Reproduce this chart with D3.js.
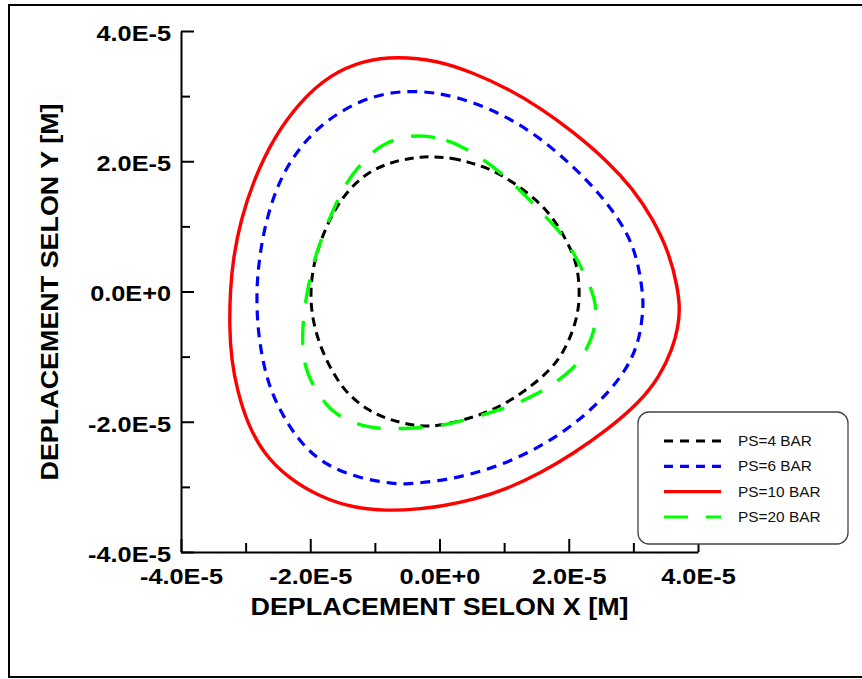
<!DOCTYPE html>
<html>
<head>
<meta charset="utf-8">
<script src="https://cdn.jsdelivr.net/npm/d3@7"></script>
<style>
  html, body { margin: 0; padding: 0; background: #fff; }
  svg { display: block; font-family: "Liberation Sans", Arial, sans-serif; }
</style>
</head>
<body>
<svg id="chart" width="862" height="679"></svg>
<script>
// ---- Data (units of 1e-5 m) ----
const seriesNames = ["PS=4 BAR", "PS=6 BAR", "PS=10 BAR", "PS=20 BAR"];

const ps4 = [
  [-0.10, 2.07], [0.21, 2.05], [0.43, 1.99], [0.78, 1.89], [1.14, 1.68], [1.51, 1.40],
  [1.76, 1.13], [1.97, 0.78], [2.13, 0.43], [2.17, 0.02], [2.15, -0.29], [2.07, -0.60],
  [1.91, -0.95], [1.71, -1.21], [1.40, -1.47], [1.05, -1.71], [0.67, -1.88], [0.32, -1.99],
  [0.01, -2.05], [-0.10, -2.07], [-0.41, -2.06], [-0.81, -1.96], [-1.12, -1.82], [-1.43, -1.57],
  [-1.64, -1.27], [-1.84, -0.87], [-1.97, -0.42], [-2.00, -0.03], [-1.96, 0.37], [-1.84, 0.79],
  [-1.64, 1.24], [-1.38, 1.60], [-1.07, 1.86], [-0.65, 2.02], [-0.25, 2.07]
];

const ps6 = [
  [-0.44, 3.08], [0.01, 3.05], [0.52, 2.91], [1.05, 2.68], [1.56, 2.36], [2.07, 1.92],
  [2.48, 1.50], [2.79, 1.09], [2.99, 0.72], [3.10, 0.30], [3.15, -0.09], [3.15, -0.29],
  [3.10, -0.71], [2.95, -1.10], [2.68, -1.48], [2.33, -1.83], [1.97, -2.12], [1.56, -2.38],
  [1.05, -2.63], [0.52, -2.80], [0.01, -2.91], [-0.53, -2.96], [-0.72, -2.95], [-1.23, -2.87],
  [-1.69, -2.70], [-2.05, -2.44], [-2.36, -2.03], [-2.62, -1.52], [-2.75, -1.01], [-2.82, -0.49],
  [-2.83, 0.02], [-2.80, 0.40], [-2.73, 0.89], [-2.57, 1.47], [-2.36, 1.93], [-2.05, 2.35],
  [-1.69, 2.67], [-1.23, 2.93], [-0.81, 3.05]
];

const ps10 = [
  [-0.65, 3.61], [-0.04, 3.55], [0.52, 3.36], [1.05, 3.12], [1.56, 2.82], [2.07, 2.45],
  [2.59, 2.01], [2.99, 1.58], [3.30, 1.12], [3.56, 0.58], [3.69, 0.04], [3.72, -0.29],
  [3.69, -0.55], [3.61, -0.87], [3.41, -1.30], [3.10, -1.70], [2.59, -2.13], [2.07, -2.49],
  [1.56, -2.79], [1.05, -3.03], [0.52, -3.20], [0.01, -3.30], [-0.30, -3.34], [-0.81, -3.37],
  [-1.34, -3.32], [-1.84, -3.16], [-2.35, -2.86], [-2.73, -2.48], [-2.97, -2.03], [-3.13, -1.52],
  [-3.22, -1.04], [-3.25, -0.58], [-3.24, 0.02], [-3.19, 0.52], [-3.08, 1.08], [-2.88, 1.70],
  [-2.57, 2.36], [-2.15, 2.93], [-1.69, 3.33], [-1.18, 3.55]
];

const ps20 = [
  [-0.25, 2.40], [0.12, 2.33], [0.40, 2.20], [0.67, 2.03], [0.94, 1.83], [1.20, 1.60],
  [1.43, 1.37], [1.66, 1.13], [1.90, 0.88], [2.07, 0.60], [2.22, 0.32], [2.36, 0.02],
  [2.44, -0.29], [2.39, -0.64], [2.25, -0.95], [2.05, -1.21], [1.76, -1.42], [1.48, -1.59],
  [1.20, -1.72], [0.89, -1.83], [0.52, -1.94], [0.21, -2.02], [0.01, -2.06], [-0.42, -2.10],
  [-0.76, -2.11], [-1.10, -2.09], [-1.43, -1.98], [-1.69, -1.82], [-1.89, -1.56], [-2.05, -1.26],
  [-2.12, -0.94], [-2.12, -0.60], [-2.09, -0.25], [-2.03, 0.08], [-1.95, 0.45], [-1.80, 0.89],
  [-1.61, 1.33], [-1.46, 1.64], [-1.27, 1.90], [-1.03, 2.15], [-0.87, 2.26], [-0.56, 2.38]
];

const majorTicks = [-4, -2, 0, 2, 4];
const minorTicks = [-3, -1, 1, 3];
const tickLabels = ["-4.0E-5", "-2.0E-5", "0.0E+0", "2.0E-5", "4.0E-5"];
const yTickLabels = ["-4.0E-5", "-2.0E-5", "0.0E+0", "2.0E-5", "4.0E-5"];
const xTitle = "DEPLACEMENT SELON X [M]";
const yTitle = "DEPLACEMENT SELON Y [M]";

// ---- Layout ----
const svg = d3.select("#chart");
const x = d3.scaleLinear().domain([-4, 4]).range([181, 698]);
const y = d3.scaleLinear().domain([-4, 4]).range([552, 31]);

// outer frame
svg.append("rect").attr("x", 9).attr("y", 5).attr("width", 880).attr("height", 672)
  .attr("fill", "none").attr("stroke", "#000").attr("stroke-width", 2);

const styles = [
  { data: ps4, color: "#000000", dash: "9,6", width: 3 },
  { data: ps6, color: "#0000ff", dash: "10,7", width: 3.2 },
  { data: ps10, color: "#ff0000", dash: null, width: 3.4 },
  { data: ps20, color: "#00ff00", dash: "24,18", width: 3.4 }
];

const line = d3.line().x(d => x(d[0])).y(d => y(d[1])).curve(d3.curveBasisClosed);

// draw in order: red, blue, black, green (green on top)
[2, 1, 0, 3].forEach(i => {
  const s = styles[i];
  svg.append("path").attr("d", line(s.data))
    .attr("fill", "none").attr("stroke", s.color).attr("stroke-width", s.width)
    .attr("stroke-dasharray", s.dash).attr("stroke-linecap", "butt");
});

// ---- Axes ----
const sx = 1.15;
function styleAxis(g) {
  g.selectAll(".domain").attr("stroke", "#000").attr("stroke-width", 2);
  g.selectAll(".tick line").attr("stroke", "#000").attr("stroke-width", 2);
}

const yAxisMajor = d3.axisLeft(y).tickValues(majorTicks).tickSizeInner(-13).tickSizeOuter(0).tickPadding(10)
  .tickFormat((d, i) => yTickLabels[i]);
const gy = svg.append("g").attr("transform", "translate(181,0)").call(yAxisMajor);
const gyMinor = svg.append("g").attr("transform", "translate(181,0)")
  .call(d3.axisLeft(y).tickValues(minorTicks).tickSizeInner(-9).tickSizeOuter(0).tickFormat(""));
gyMinor.select(".domain").remove();

const xAxisMajor = d3.axisBottom(x).tickValues(majorTicks).tickSizeInner(-13).tickSizeOuter(0).tickPadding(16)
  .tickFormat((d, i) => tickLabels[i]);
const gx = svg.append("g").attr("transform", "translate(0,552)").call(xAxisMajor);
const gxMinor = svg.append("g").attr("transform", "translate(0,552)")
  .call(d3.axisBottom(x).tickValues(minorTicks).tickSizeInner(-9).tickSizeOuter(0).tickFormat(""));
gxMinor.select(".domain").remove();

[gy, gyMinor, gx, gxMinor].forEach(styleAxis);

[gy, gx].forEach(g => {
  g.selectAll(".tick text")
    .attr("font-family", "'Liberation Sans', Arial, sans-serif")
    .attr("font-size", 22).attr("font-weight", "bold").attr("fill", "#000")
    .each(function() {
      const t = d3.select(this);
      const tx = +t.attr("x") || 0;
      const ty = +t.attr("y") || 0;
      t.attr("x", 0).attr("y", 0).attr("transform", `translate(${tx},${ty}) scale(${sx},1)`);
    });
});
gy.selectAll(".tick text").attr("dy", "0.43em");

// axis titles
svg.append("text").attr("transform", `translate(439.5,615) scale(1.17,1)`)
  .attr("text-anchor", "middle").attr("font-size", 23).attr("font-weight", "bold").text(xTitle);
svg.append("text").attr("transform", `translate(58,292) rotate(-90) scale(1.17,1)`)
  .attr("text-anchor", "middle").attr("font-size", 23).attr("font-weight", "bold").text(yTitle);

// ---- Legend ----
const lg = svg.append("g");
lg.append("rect").attr("x", 638).attr("y", 412).attr("width", 210).attr("height", 132)
  .attr("rx", 11).attr("ry", 11).attr("fill", "#fff").attr("stroke", "#444").attr("stroke-width", 1.3);
const rowY = d3.scalePoint().domain(seriesNames).range([441, 517]);
seriesNames.forEach((name, i) => {
  const s = styles[i];
  const yy = rowY(name);
  lg.append("line").attr("x1", 664).attr("x2", 721).attr("y1", yy).attr("y2", yy)
    .attr("stroke", s.color).attr("stroke-width", 3.2).attr("stroke-dasharray", i === 0 || i === 1 ? "9,7" : s.dash);
  lg.append("text").attr("transform", `translate(738,${yy + 5}) scale(1.1,1)`)
    .attr("font-size", 14).attr("fill", "#111").text(name);
});
</script>
</body>
</html>
